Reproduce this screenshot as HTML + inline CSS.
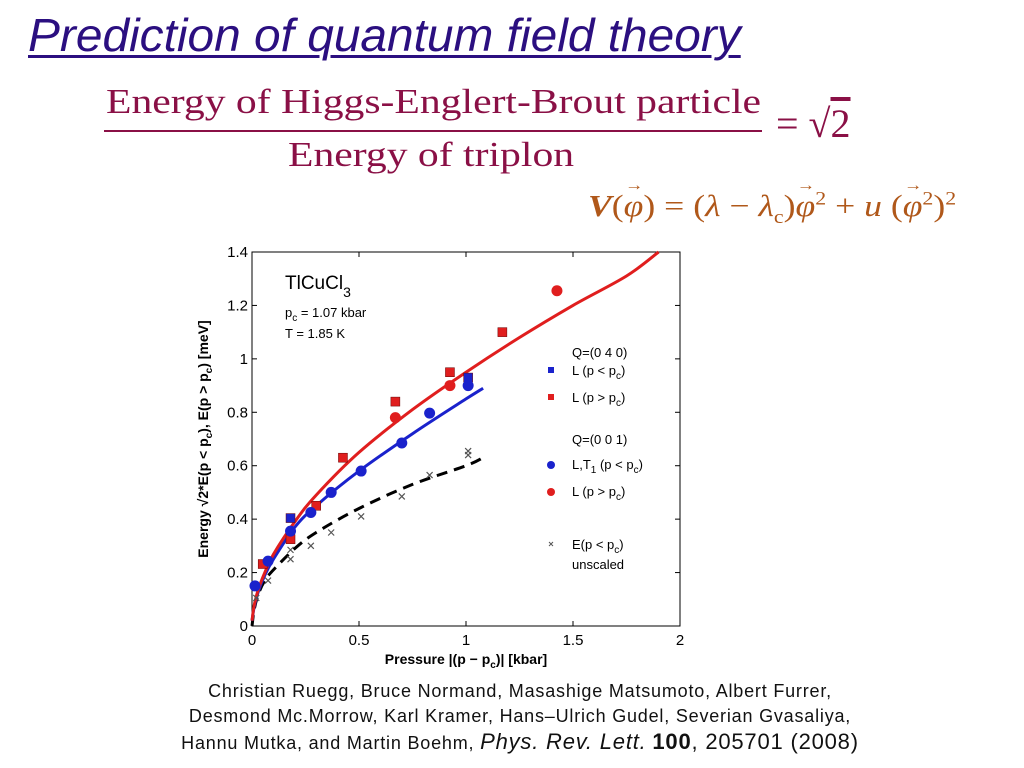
<!DOCTYPE html>
<html><head><meta charset="utf-8"><style>
body{margin:0;width:1024px;height:768px;background:#fff;position:relative;overflow:hidden;font-family:"Liberation Sans",sans-serif}
.a{position:absolute;white-space:nowrap}
.serif{font-family:"Liberation Serif","DejaVu Serif",serif}
.vec{position:relative;display:inline-block}
.vec::after{content:"→";position:absolute;left:1px;top:-11px;font-size:16px;font-style:normal}
</style></head><body>
<div class="a" style="left:28px;top:8px;font-size:46px;font-style:italic;color:#2b0f80;text-decoration:underline;text-decoration-thickness:3px;text-underline-offset:4px;transform-origin:0 0;transform:scaleX(1.04)">Prediction of quantum field theory</div>
<div class="a serif" style="left:106px;top:82px;font-size:35px;color:#8a1046;transform-origin:0 0;transform:scaleX(1.19)">Energy of Higgs-Englert-Brout particle</div>
<div class="a" style="left:104px;top:130px;width:658px;height:2px;background:#8a1046"></div>
<div class="a serif" style="left:288px;top:135px;font-size:35px;color:#8a1046;transform-origin:0 0;transform:scaleX(1.19)">Energy of triplon</div>
<div class="a serif" style="left:776px;top:100px;font-size:40px;color:#8a1046">= √<span style="text-decoration:overline">2</span></div>
<div class="a serif" style="left:588px;top:188px;font-size:31px;color:#b0581a;transform-origin:0 0;transform:scaleX(1.15)"><i><b>V</b></i>(<i class="vec">φ</i>) = (<i>λ</i> − <i>λ</i><sub style="font-size:19px">c</sub>)<i class="vec">φ</i><sup style="font-size:19px">2</sup> + <i>u</i> (<i class="vec">φ</i><sup style="font-size:19px">2</sup>)<sup style="font-size:19px">2</sup></div>
<svg class="a" style="left:0;top:0" width="1024" height="768" id="chart"></svg>
<div class="a" style="left:0;width:1040px;top:679px;text-align:center;font-size:18px;letter-spacing:0.8px;line-height:25px;color:#111">Christian Ruegg, Bruce Normand, Masashige Matsumoto, Albert Furrer,<br>Desmond Mc.Morrow, Karl Kramer, Hans–Ulrich Gudel, Severian Gvasaliya,<br>Hannu Mutka, and Martin Boehm, <i style="font-size:22px">Phys. Rev. Lett.</i> <b style="font-size:22px">100</b><span style="font-size:22px">, 205701 (2008)</span></div>
<script>
const xTicks=[0,0.5,1,1.5,2];
const yTicks=[0,0.2,0.4,0.6,0.8,1,1.2,1.4];
const blueCircX=[0.014,0.075,0.18,0.275,0.37,0.51,0.70,0.83,1.01];
const blueCircY=[0.15,0.243,0.355,0.425,0.50,0.58,0.685,0.797,0.90];
const blueSqX=[0.18,1.01];
const blueSqY=[0.404,0.93];
const redSqX=[0.05,0.18,0.30,0.425,0.67,0.925,1.17];
const redSqY=[0.232,0.325,0.45,0.63,0.84,0.95,1.10];
const redCircX=[0.67,0.925,1.425];
const redCircY=[0.78,0.90,1.255];
const crossX=[0.02,0.075,0.18,0.18,0.275,0.37,0.51,0.70,0.83,1.01,1.01];
const crossY=[0.105,0.17,0.285,0.25,0.30,0.35,0.41,0.485,0.565,0.655,0.64];
const redFitX=[0,0.01,0.03,0.06,0.1,0.2,0.3,0.5,0.75,1.0,1.25,1.5,1.75,1.9];
const redFitY=[0.02,0.076,0.138,0.20,0.268,0.39,0.49,0.65,0.81,0.95,1.08,1.20,1.31,1.40];
const blueFitX=[0,0.01,0.03,0.06,0.1,0.2,0.3,0.5,0.75,1.0,1.08];
const blueFitY=[0.02,0.07,0.13,0.19,0.25,0.37,0.45,0.58,0.72,0.85,0.89];
const dashFitX=[0,0.01,0.03,0.06,0.1,0.2,0.3,0.5,0.75,1.0,1.08];
const dashFitY=[0,0.06,0.12,0.17,0.21,0.29,0.35,0.44,0.53,0.60,0.63];

const X0=252,X1=680,Y0=626,Y1=252;
const sx=v=>X0+(X1-X0)*v/2, sy=v=>Y0-(Y0-Y1)*v/1.4;
const svg=document.getElementById('chart'),NS='http://www.w3.org/2000/svg';
function mk(t,at,parent){const e=document.createElementNS(NS,t);for(const k in at)e.setAttribute(k,at[k]);(parent||svg).appendChild(e);return e;}
const frame=mk('rect',{x:X0,y:Y1,width:X1-X0,height:Y0-Y1,fill:'none',stroke:'#000','stroke-width':1});


xTicks.forEach(t=>{
 mk('line',{x1:sx(t),x2:sx(t),y1:Y0,y2:Y0-5,stroke:'#000'});mk('line',{x1:sx(t),x2:sx(t),y1:Y1,y2:Y1+5,stroke:'#000'});
 const l=mk('text',{x:sx(t),y:Y0+19,'text-anchor':'middle','font-size':15,'font-family':'Liberation Sans'});l.textContent=t;
 
 
});
yTicks.forEach(t=>{
 mk('line',{x1:X0,x2:X0+5,y1:sy(t),y2:sy(t),stroke:'#000'});mk('line',{x1:X1,x2:X1-5,y1:sy(t),y2:sy(t),stroke:'#000'});
 const l=mk('text',{x:X0-4,y:sy(t)+5,'text-anchor':'end','font-size':15,'font-family':'Liberation Sans'});l.textContent=t;
 
 
});
function line(xs,ys,col,dash,name){
 const P=xs.map((x,i)=>[sx(x),sy(ys[i])]);
 let d='M'+P[0][0].toFixed(1)+' '+P[0][1].toFixed(1);
 for(let i=0;i<P.length-1;i++){
  const p0=P[Math.max(i-1,0)],p1=P[i],p2=P[i+1],p3=P[Math.min(i+2,P.length-1)];
  const c1=[p1[0]+(p2[0]-p0[0])/6,p1[1]+(p2[1]-p0[1])/6],c2=[p2[0]-(p3[0]-p1[0])/6,p2[1]-(p3[1]-p1[1])/6];
  d+=` C${c1[0].toFixed(1)} ${c1[1].toFixed(1)} ${c2[0].toFixed(1)} ${c2[1].toFixed(1)} ${p2[0].toFixed(1)} ${p2[1].toFixed(1)}`;
 }
 const p=mk('path',{d,fill:'none',stroke:col,'stroke-width':3,'stroke-dasharray':dash||'none','stroke-linejoin':'round'});
 
 
}
line(dashFitX,dashFitY,'#000','11 7','unscaled-fit-line');
line(blueFitX,blueFitY,'#1a22cc',null,'blue-fit-line');
line(redFitX,redFitY,'#e01e1e',null,'red-fit-line');
function crosses(xs,ys){xs.forEach((x,i)=>{const cx=sx(x),cy=sy(ys[i]);
 const g=mk('path',{d:`M${cx-3} ${cy-3}L${cx+3} ${cy+3}M${cx+3} ${cy-3}L${cx-3} ${cy+3}`,stroke:'#555','stroke-width':1.2});
 
 });}
function squares(xs,ys,col,name){xs.forEach((x,i)=>{const r=mk('rect',{x:sx(x)-4.5,y:sy(ys[i])-4.5,width:9,height:9,fill:col,stroke:'#600','stroke-width':0.5});
 
 });}
function circles(xs,ys,col,name){xs.forEach((x,i)=>{const c=mk('circle',{cx:sx(x),cy:sy(ys[i]),r:5.5,fill:col});
 
 });}
crosses(crossX,crossY);
squares(redSqX,redSqY,'#e01e1e','red-square-point');
squares(blueSqX,blueSqY,'#1a22cc','blue-square-point');
circles(blueCircX,blueCircY,'#1a22cc','blue-circle-point');
circles(redCircX,redCircY,'#e01e1e','red-circle-point');
function txt(x,y,s,html,name,fs){const t=mk('text',{x,y,'font-size':fs||13,'font-family':'Liberation Sans'});t.innerHTML=s;
 
 return t;}
txt(285,289,'TlCuCl<tspan dy="8" font-size="14">3</tspan>',1,'material-label',19);
txt(285,317,'p<tspan dy="4" font-size="10">c</tspan><tspan dy="-4"> = 1.07 kbar</tspan>',1,'pc-label');
txt(285,338,'T = 1.85 K',1,'temperature-label');
txt(572,357,'Q=(0 4 0)',1,'legend-title-040');
mk('rect',{x:548,y:367,width:6,height:6,fill:'#1a22cc'});
txt(572,375,'L (p &lt; p<tspan dy="4" font-size="10">c</tspan><tspan dy="-4">)</tspan>',1,'legend-entry-blue-square');
mk('rect',{x:548,y:394,width:6,height:6,fill:'#e01e1e'});
txt(572,402,'L (p &gt; p<tspan dy="4" font-size="10">c</tspan><tspan dy="-4">)</tspan>',1,'legend-entry-red-square');
txt(572,444,'Q=(0 0 1)',1,'legend-title-001');
mk('circle',{cx:551,cy:465,r:4,fill:'#1a22cc'});
txt(572,469,'L,T<tspan dy="4" font-size="10">1</tspan><tspan dy="-4"> (p &lt; p</tspan><tspan dy="4" font-size="10">c</tspan><tspan dy="-4">)</tspan>',1,'legend-entry-blue-circle');
mk('circle',{cx:551,cy:492,r:4,fill:'#e01e1e'});
txt(572,496,'L (p &gt; p<tspan dy="4" font-size="10">c</tspan><tspan dy="-4">)</tspan>',1,'legend-entry-red-circle');
mk('path',{d:'M549 542L553 546M553 542L549 546',stroke:'#555'});
txt(572,549,'E(p &lt; p<tspan dy="4" font-size="10">c</tspan><tspan dy="-4">)</tspan>',1,'legend-entry-unscaled');
txt(572,569,'unscaled',1,'legend-unscaled-text');
const xt=txt(466,664,'Pressure |(p − p<tspan dy="4" font-size="10">c</tspan><tspan dy="-4">)| [kbar]</tspan>',1,'x-axis-title',14);
xt.setAttribute('text-anchor','middle');xt.setAttribute('font-weight','bold');
const yt=txt(0,0,'Energy √2*E(p &lt; p<tspan dy="4" font-size="10">c</tspan><tspan dy="-4">), E(p &gt; p</tspan><tspan dy="4" font-size="10">c</tspan><tspan dy="-4">) [meV]</tspan>',1,'y-axis-title',14);
yt.setAttribute('text-anchor','middle');yt.setAttribute('font-weight','bold');
yt.setAttribute('transform','translate(208,439) rotate(-90)');
</script>
</body></html>
